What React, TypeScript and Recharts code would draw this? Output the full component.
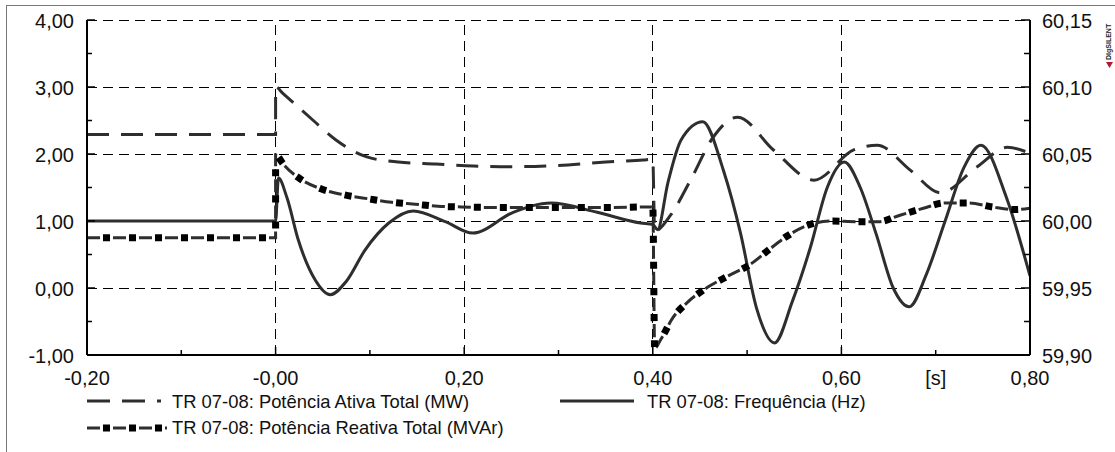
import { LineChart, Line, XAxis, YAxis, ReferenceLine } from "recharts";

// time axis [s]
const xTicks = [-0.2, -0.1, 0, 0.1, 0.2, 0.3, 0.4, 0.5, 0.6, 0.7, 0.8];
const xTickLabels = ["-0,20", "", "-0,00", "", "0,20", "", "0,40", "", "0,60", "[s]", "0,80"];

// left axis (MW / MVAr)
const leftTicks = [-1, -0.5, 0, 0.5, 1, 1.5, 2, 2.5, 3, 3.5, 4];
const leftTickLabels = ["-1,00", "", "0,00", "", "1,00", "", "2,00", "", "3,00", "", "4,00"];

// right axis (Hz)
const rightTicks = [59.9, 59.925, 59.95, 59.975, 60.0, 60.025, 60.05, 60.075, 60.1, 60.125, 60.15];
const rightTickLabels = ["59,90", "", "59,95", "", "60,00", "", "60,05", "", "60,10", "", "60,15"];

const gridX = [0, 0.2, 0.4, 0.6];
const gridY = [0, 1, 2, 3, 4];

// TR 07-08: Potência Ativa Total (MW)
const mwTime = [-0.2, 0, 0, 0.008, 0.02, 0.04, 0.064, 0.096, 0.13, 0.17, 0.21, 0.25, 0.3, 0.35, 0.39, 0.4, 0.402, 0.419, 0.44, 0.464, 0.49, 0.528, 0.571, 0.613, 0.638, 0.673, 0.705, 0.744, 0.776, 0.8];
const mwValue = [2.29, 2.29, 3.0, 2.9, 2.75, 2.5, 2.21, 1.96, 1.88, 1.85, 1.82, 1.81, 1.83, 1.88, 1.91, 1.92, 0.85, 1.09, 1.61, 2.25, 2.55, 2.06, 1.61, 2.06, 2.13, 1.76, 1.42, 1.81, 2.1, 2.01];

// TR 07-08: Potência Reativa Total (MVAr)
const mvarTime = [-0.2, 0, 0, 0.002, 0.007, 0.026, 0.048, 0.073, 0.099, 0.123, 0.148, 0.172, 0.197, 0.25, 0.3, 0.35, 0.4, 0.402, 0.408, 0.421, 0.437, 0.458, 0.48, 0.504, 0.523, 0.543, 0.565, 0.591, 0.615, 0.639, 0.663, 0.687, 0.71, 0.735, 0.76, 0.785, 0.8];
const mvarValue = [0.75, 0.75, 1.99, 1.97, 1.87, 1.63, 1.48, 1.39, 1.33, 1.28, 1.25, 1.22, 1.21, 1.2, 1.2, 1.2, 1.21, -0.9, -0.78, -0.45, -0.21, 0.01, 0.18, 0.36, 0.57, 0.78, 0.94, 1.0, 0.99, 0.99, 1.09, 1.19, 1.27, 1.27, 1.21, 1.17, 1.19];

// TR 07-08: Frequência (Hz)
const freqTime = [-0.2, 0, 0.003, 0.012, 0.024, 0.042, 0.058, 0.075, 0.095, 0.12, 0.146, 0.18, 0.209, 0.252, 0.292, 0.341, 0.387, 0.4, 0.405, 0.416, 0.43, 0.453, 0.475, 0.493, 0.51, 0.529, 0.548, 0.567, 0.585, 0.603, 0.62, 0.637, 0.655, 0.672, 0.69, 0.71, 0.73, 0.748, 0.775, 0.8];
const freqValue = [60.0, 60.0, 60.032, 60.0175, 59.986, 59.956, 59.945, 59.955, 59.9785, 59.9985, 60.0075, 59.9995, 59.991, 60.0065, 60.0135, 60.0065, 59.9985, 59.9975, 59.9935, 60.0285, 60.0605, 60.074, 60.0375, 59.991, 59.935, 59.909, 59.94, 59.98, 60.025, 60.044, 60.025, 59.99, 59.95, 59.936, 59.96, 60.0, 60.04, 60.0565, 60.0175, 59.959];

const toRows = (ts: number[], vs: number[]) => ts.map((t, i) => ({ t, v: vs[i] }));
const mwData = toRows(mwTime, mwValue);
const mvarData = toRows(mvarTime, mvarValue);
const freqData = toRows(freqTime, freqValue);

const FONT = "'Liberation Sans', Arial, sans-serif";
const INK = "#111";

const LeftTick = (props: any) => {
  const { x, y, payload } = props;
  const label = leftTickLabels[leftTicks.indexOf(payload.value)] ?? "";
  return (
    <g>
      <line x1={x} y1={y} x2={x + (label ? 8 : 5)} y2={y} stroke="#000" strokeWidth={1.5} />
      {label && (
        <text x={x - 13} y={y + 8} textAnchor="end" fontSize={20} fill={INK} fontFamily={FONT}>
          {label}
        </text>
      )}
    </g>
  );
};

const RightTick = (props: any) => {
  const { x, y, payload } = props;
  const label = rightTickLabels[rightTicks.indexOf(payload.value)] ?? "";
  return (
    <g>
      <line x1={x} y1={y} x2={x - (label ? 9 : 6)} y2={y} stroke="#000" strokeWidth={1.5} />
      {label && (
        <text x={x + 12} y={y + 8} textAnchor="start" fontSize={20} fill={INK} fontFamily={FONT}>
          {label}
        </text>
      )}
    </g>
  );
};

const BottomTick = (props: any) => {
  const { x, y, payload } = props;
  const i = xTicks.indexOf(payload.value);
  const label = xTickLabels[i] ?? "";
  const major = i % 2 === 0;
  return (
    <g>
      <line x1={x} y1={y} x2={x} y2={y - (major ? 8 : 5)} stroke="#000" strokeWidth={1.5} />
      {label && (
        <text x={x} y={y + 30} textAnchor="middle" fontSize={20} fill={INK} fontFamily={FONT}>
          {label}
        </text>
      )}
    </g>
  );
};

const LINE = "#2e2e2e";
const MVAR_BASE = "13 13";
const MVAR_SQ = "0 16 7 3";
const GRID_DASH = "10 6";

function LegendBox() {
  const txt = { fontSize: 18.4, fill: INK, fontFamily: FONT } as const;
  return (
    <svg width={1115} height={60} style={{ position: "absolute", left: 0, top: 380 }}>
      <line x1={87} y1={21} x2={161} y2={21} stroke={LINE} strokeWidth={3} strokeDasharray="23 12" />
      <text x={172} y={28} {...txt}>TR 07-08: Potência Ativa Total (MW)</text>
      <line x1={87} y1={48} x2={167} y2={48} stroke={LINE} strokeWidth={3} strokeDasharray={MVAR_BASE} />
      <line x1={87} y1={48} x2={167} y2={48} stroke="#000" strokeWidth={7} strokeDasharray={MVAR_SQ} />
      <text x={172} y={54} {...txt}>TR 07-08: Potência Reativa Total (MVAr)</text>
      <line x1={560} y1={21} x2={634} y2={21} stroke={LINE} strokeWidth={3} />
      <text x={647} y={28} {...txt}>TR 07-08: Frequência (Hz)</text>
    </svg>
  );
}

export default function App() {
  return (
    <div
      style={{
        position: "absolute",
        left: 0,
        top: 0,
        width: 1115,
        height: 452,
        overflow: "hidden",
        background: "#fff",
        fontFamily: FONT,
      }}
    >
      <div
        style={{
          position: "absolute",
          left: 6,
          top: 5,
          width: 1300,
          height: 600,
          borderTop: "1px solid #777",
          borderLeft: "1px solid #777",
        }}
      />
      <LineChart width={1115} height={452} margin={{ top: 20, right: 5, bottom: 67, left: 7 }}>
        <XAxis
          type="number"
          dataKey="t"
          domain={[-0.2, 0.8]}
          ticks={xTicks}
          interval={0}
          allowDataOverflow
          tickSize={0}
          tickMargin={0}
          tickLine={false}
          tick={BottomTick}
          axisLine={{ stroke: "#000", strokeWidth: 2 }}
          height={30}
        />
        <YAxis
          yAxisId="left"
          orientation="left"
          type="number"
          domain={[-1, 4]}
          ticks={leftTicks}
          interval={0}
          allowDataOverflow
          width={80}
          tickSize={0}
          tickMargin={0}
          tickLine={false}
          tick={LeftTick}
          axisLine={{ stroke: "#000", strokeWidth: 2 }}
        />
        <YAxis
          yAxisId="right"
          orientation="right"
          type="number"
          domain={[59.9, 60.15]}
          ticks={rightTicks}
          interval={0}
          allowDataOverflow
          width={80}
          tickSize={0}
          tickMargin={0}
          tickLine={false}
          tick={RightTick}
          axisLine={{ stroke: "#000", strokeWidth: 2 }}
        />
        {gridY.map((v) => (
          <ReferenceLine
            key={"gy" + v}
            yAxisId="left"
            y={v}
            stroke="#000"
            strokeWidth={1}
            strokeDasharray={GRID_DASH}
            shapeRendering="crispEdges"
          />
        ))}
        {gridX.map((v) => (
          <ReferenceLine
            key={"gx" + v}
            yAxisId="left"
            x={v}
            stroke="#000"
            strokeWidth={1}
            strokeDasharray={GRID_DASH}
            shapeRendering="crispEdges"
          />
        ))}
        <Line
          yAxisId="right"
          data={freqData}
          dataKey="v"
          type="monotone"
          stroke={LINE}
          strokeWidth={3}
          dot={false}
          activeDot={false}
          isAnimationActive={false}
        />
        <Line
          yAxisId="left"
          data={mwData}
          dataKey="v"
          type="monotone"
          stroke={LINE}
          strokeWidth={3}
          strokeDasharray="22 12"
          dot={false}
          activeDot={false}
          isAnimationActive={false}
        />
        <Line
          yAxisId="left"
          data={mvarData}
          dataKey="v"
          type="monotone"
          stroke={LINE}
          strokeWidth={3}
          strokeDasharray={MVAR_BASE}
          dot={false}
          activeDot={false}
          isAnimationActive={false}
        />
        <Line
          yAxisId="left"
          data={mvarData}
          dataKey="v"
          type="monotone"
          stroke="#000"
          strokeWidth={7}
          strokeDasharray={MVAR_SQ}
          dot={false}
          activeDot={false}
          isAnimationActive={false}
        />
      </LineChart>
      <LegendBox />
      <svg width={14} height={70} style={{ position: "absolute", left: 1101, top: 6 }}>
        <text
          x={0}
          y={0}
          transform="translate(10,54) rotate(-90)"
          fontSize={7}
          fontWeight="bold"
          fill="#222"
          fontFamily={FONT}
        >
          DIgSILENT
        </text>
        <polygon points="5,56 12,56 8.5,62" fill="#b01c2e" />
      </svg>
    </div>
  );
}
